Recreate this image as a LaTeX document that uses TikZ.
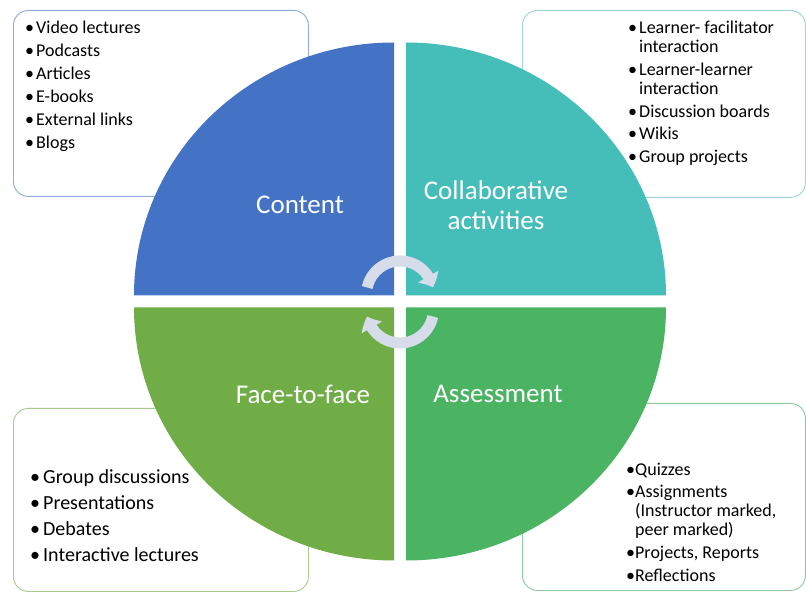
\documentclass[tikz,border=0pt]{standalone}
\usepackage{fontspec}
\setmainfont{Carlito}
\usetikzlibrary{arrows.meta,bending}
\definecolor{ContentBlue}{HTML}{4472C4}
\definecolor{CollabTeal}{HTML}{45BDB9}
\definecolor{FaceGreen}{HTML}{70AD47}
\definecolor{AssessGreen}{HTML}{4AB463}
\definecolor{CycleGrey}{HTML}{D7DCEB}
\definecolor{ContentLine}{HTML}{8FAADC}
\definecolor{CollabLine}{HTML}{9DD3D0}
\definecolor{FaceLine}{HTML}{A9CB8E}
\definecolor{AssessLine}{HTML}{8FCB9B}
\newcommand{\bul}[1][11pt]{\makebox[#1][l]{\textbullet}}

\begin{document}
\begin{tikzpicture}[x=1pt,y=1pt,
  infobox/.style={draw=#1, line width=0.9pt, rounded corners=15pt, anchor=north west, inner sep=0pt},
  listtext/.style={anchor=north west, inner sep=0pt, align=left},
  quadlabel/.style={text=white, align=center, inner sep=0pt, font=\fontsize{27}{30}\selectfont},
  cyclearrow/.style={draw=CycleGrey, line width=11pt, -{Triangle[width=23pt,length=12pt,bend]}}]
  \useasboundingbox (0,0) rectangle (806,592);
  \fill[white] (0,0) rectangle (806,592);

  % side boxes
  \node[infobox=ContentLine, minimum width=295pt, minimum height=186pt] (contentbox) at (13,582) {};
  \node[infobox=CollabLine, minimum width=283pt, minimum height=187pt] (collabbox) at (522,582) {};
  \node[infobox=FaceLine, minimum width=295pt, minimum height=183pt] (facebox) at (13,184) {};
  \node[infobox=AssessLine, minimum width=283pt, minimum height=187pt] (assessbox) at (522,189) {};

  \node[listtext, font=\fontsize{18}{23}\selectfont] (contentlist)
    at ([xshift=12pt,yshift=-10.5pt]contentbox.north west)
    {\bul Video lectures\\ \bul Podcasts\\ \bul Articles\\ \bul E-books\\ \bul External links\\ \bul Blogs};
  \node[listtext, font=\fontsize{18}{19.5}\selectfont] (collablist)
    at ([xshift=106pt,yshift=-10.5pt]collabbox.north west)
    {\bul Learner- facilitator\\ \hspace*{11pt}interaction\\[3pt]
     \bul Learner-learner\\ \hspace*{11pt}interaction\\[3pt]
     \bul Discussion boards\\[3pt] \bul Wikis\\[3pt] \bul Group projects};
  \node[listtext, font=\fontsize{20}{26}\selectfont] (facelist)
    at ([xshift=17pt,yshift=-61pt]facebox.north west)
    {\bul[13pt]Group discussions\\ \bul[13pt]Presentations\\ \bul[13pt]Debates\\ \bul[13pt]Interactive lectures};
  \node[listtext, font=\fontsize{18}{19}\selectfont] (assesslist)
    at ([xshift=104pt,yshift=-59.5pt]assessbox.north west)
    {\bul[9pt]Quizzes\\[3pt] \bul[9pt]Assignments\\ \hspace*{9pt}(Instructor marked,\\ \hspace*{9pt}peer marked)\\[4pt]
     \bul[9pt]Projects, Reports\\[4pt] \bul[9pt]Reflections};

  % four quarters of the wheel
  \coordinate (hub) at (400,290.5);
  \foreach \col/\ang/\dx/\dy in {CollabTeal/0/6/6, ContentBlue/90/-6/6, FaceGreen/180/-6/-6, AssessGreen/270/6/-6}
    \fill[\col] ([shift={(\dx,\dy)}]hub) -- ++({260*cos(\ang)},{253*sin(\ang)})
      arc[start angle=\ang, end angle=\ang+90, x radius=260, y radius=253] -- cycle;

  \node[quadlabel] (content) at (300,387) {Content};
  \node[quadlabel] (collab) at (496,387) {Collaborative\\activities};
  \node[quadlabel] (face) at (303,198) {Face-to-face};
  \node[quadlabel] (assess) at (498,198) {Assessment};

  % cycle arrows
  \draw[cyclearrow] ([yshift=7pt]hub) ++(168:33.5) arc[start angle=168, end angle=12, radius=33.5];
  \draw[cyclearrow] ([yshift=-8pt]hub) ++(-12:33.5) arc[start angle=-12, end angle=-168, radius=33.5];
\end{tikzpicture}
\end{document}
